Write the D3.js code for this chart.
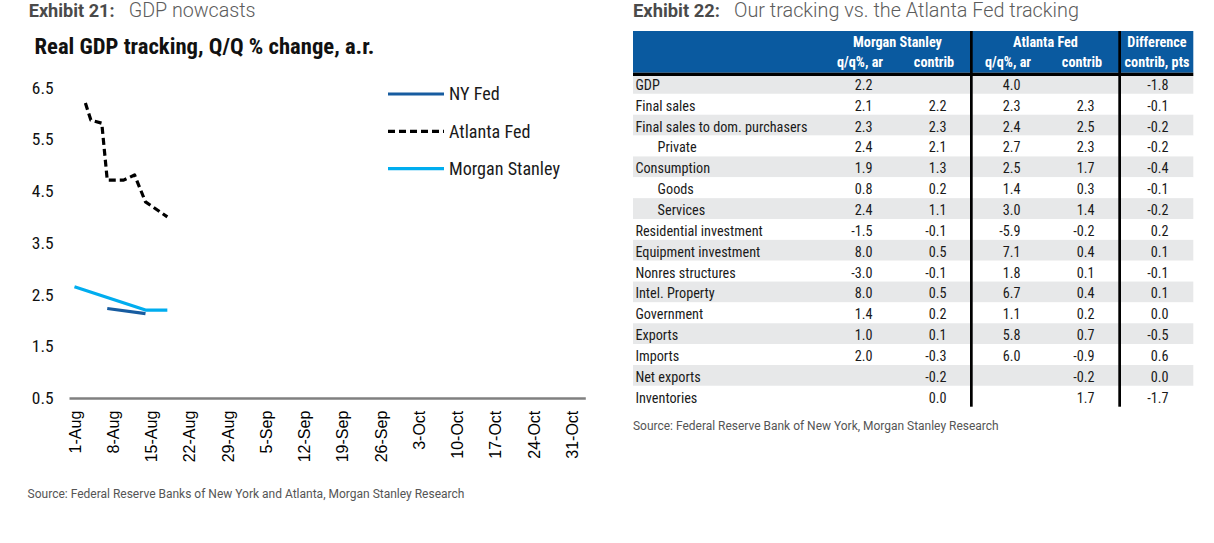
<!DOCTYPE html>
<html><head><meta charset="utf-8">
<script src="https://cdn.jsdelivr.net/npm/d3@7"></script>
<style>body{margin:0;background:#fff} svg{display:block}</style>
</head><body><svg id="c" width="1214" height="543"></svg>
<script>
// ---------------- DATA ----------------
const weekTicks = ["2025-08-01","2025-08-08","2025-08-15","2025-08-22","2025-08-29","2025-09-05","2025-09-12","2025-09-19","2025-09-26","2025-10-03","2025-10-10","2025-10-17","2025-10-24","2025-10-31"];
const yTicks = [0.5, 1.5, 2.5, 3.5, 4.5, 5.5, 6.5];

const nyFedDates = ["2025-08-07","2025-08-14"];
const nyFedValues = [2.23, 2.13];
const atlantaDates = ["2025-08-03","2025-08-04","2025-08-06","2025-08-07","2025-08-10","2025-08-12","2025-08-14","2025-08-18"];
const atlantaValues = [6.2, 5.87, 5.81, 4.71, 4.71, 4.81, 4.29, 4.0];
const msDates = ["2025-08-01","2025-08-14","2025-08-18"];
const msValues = [2.65, 2.2, 2.2];

const seriesNames = ["NY Fed", "Atlanta Fed", "Morgan Stanley"];

const rowLabels = ["GDP","Final sales","Final sales to dom. purchasers","Private","Consumption","Goods","Services","Residential investment","Equipment investment","Nonres structures","Intel. Property","Government","Exports","Imports","Net exports","Inventories"];
const rowIndent = [0,0,0,1,0,1,1,0,0,0,0,0,0,0,0,0];
const msQQ      = [2.2, 2.1, 2.3, 2.4, 1.9, 0.8, 2.4, -1.5, 8.0, -3.0, 8.0, 1.4, 1.0, 2.0, null, null];
const msContrib = [null, 2.2, 2.3, 2.1, 1.3, 0.2, 1.1, -0.1, 0.5, -0.1, 0.5, 0.2, 0.1, -0.3, -0.2, 0.0];
const atlQQ     = [4.0, 2.3, 2.4, 2.7, 2.5, 1.4, 3.0, -5.9, 7.1, 1.8, 6.7, 1.1, 5.8, 6.0, null, null];
const atlContrib= [null, 2.3, 2.5, 2.3, 1.7, 0.3, 1.4, -0.2, 0.4, 0.1, 0.4, 0.2, 0.7, -0.9, -0.2, 1.7];
const diffContrib=[-1.8, -0.1, -0.2, -0.2, -0.4, -0.1, -0.2, 0.2, 0.1, -0.1, 0.1, 0.0, -0.5, 0.6, 0.0, -1.7];
const groupHeaders = ["Morgan Stanley", "Atlanta Fed", "Difference"];
const subHeaders = ["q/q%, ar", "contrib", "q/q%, ar", "contrib", "contrib, pts"];

// ---------------- HELPERS ----------------
const NARROW = "'Roboto Condensed','Liberation Sans Narrow','Arial Narrow','DejaVu Sans Condensed',sans-serif";
const ROBOTO = "Roboto,'Noto Sans',sans-serif";
const ARIAL = "'Liberation Sans',Arial,sans-serif";
function fit(sel, w){
  const n = sel.node(); const fs = parseFloat(sel.attr("font-size"));
  const l = n.getComputedTextLength();
  if (l > 0) sel.attr("font-size", fs * w / l);
  return parseFloat(sel.attr("font-size"));
}
const parse = d3.timeParse("%Y-%m-%d");
const fmt = d3.timeFormat("%-d-%b");
const num = v => v == null ? "" : v.toFixed(1);

const svg = d3.select("#c");
svg.append("rect").attr("width",1214).attr("height",543).attr("fill","#fff");

// ---------------- EXHIBIT TITLES ----------------
function exhibit(x, label, title, wl, wt){
  const a = svg.append("text").attr("x",x).attr("y",17).attr("font-family",ROBOTO)
    .attr("font-weight",700).attr("font-size",20).attr("fill","#4a4a4a").text(label);
  fit(a, wl);
  const b = svg.append("text").attr("x",x + wl + 14).attr("y",17).attr("font-family",ROBOTO)
    .attr("font-weight",300).attr("font-size",20).attr("fill","#5c5c5c").text(title);
  fit(b, wt);
}
exhibit(28.7, "Exhibit 21:", "GDP nowcasts", 86, 127);
exhibit(633, "Exhibit 22:", "Our tracking vs. the Atlanta Fed tracking", 87, 345);

// ---------------- LINE CHART ----------------
const x = d3.scaleTime().domain([new Date(2025,6,31), new Date(2025,10,2,12)]).range([69, 585.3]);
const y = d3.scaleLinear().domain([0.5, 6.5]).range([398, 87.5]);

const ttl = svg.append("text").attr("x",34.5).attr("y",54).attr("font-family",NARROW)
  .attr("font-weight",700).attr("font-size",20).attr("fill","#111")
  .text("Real GDP tracking, Q/Q % change, a.r.");
fit(ttl, 340);

// y axis
const gy = svg.append("g").attr("transform","translate(69,0)")
  .call(d3.axisLeft(y).tickValues(yTicks).tickFormat(d => d.toFixed(1)).tickSize(0).tickPadding(15.4));
gy.select(".domain").remove();
gy.selectAll("text").attr("font-family",NARROW).attr("font-size",18).attr("fill","#111");
const ySize = fit(gy.select(".tick:last-of-type text"), 21.8);
gy.selectAll("text").attr("font-size", ySize);

// x axis
const gx = svg.append("g").attr("transform","translate(0,398)")
  .call(d3.axisBottom(x).tickValues(weekTicks.map(parse)).tickFormat(fmt).tickSize(0).tickSizeOuter(0));
gx.select(".domain").attr("stroke","#808080").attr("stroke-width",2.6);
gx.selectAll("text").attr("transform","rotate(-90)").attr("x",-12.7).attr("y",0)
  .attr("dy","0.35em").attr("text-anchor","end")
  .attr("font-family",ARIAL).attr("font-size",16).attr("fill","#000");

const line = d3.line().x(d => x(d.date)).y(d => y(d.v));
const mk = (ds, vs) => ds.map((d,i) => ({date: parse(d), v: vs[i]}));
const styles = {
  "NY Fed": {stroke:"#175ca0", dash:null},
  "Atlanta Fed": {stroke:"#000", dash:"7,4"},
  "Morgan Stanley": {stroke:"#00adef", dash:null}
};
const series = [
  {name:"NY Fed", data: mk(nyFedDates, nyFedValues)},
  {name:"Morgan Stanley", data: mk(msDates, msValues)},
  {name:"Atlanta Fed", data: mk(atlantaDates, atlantaValues)}
];
svg.append("g").selectAll("path").data(series).join("path")
  .attr("d", d => line(d.data)).attr("fill","none")
  .attr("stroke", d => styles[d.name].stroke).attr("stroke-width",3.2)
  .attr("stroke-dasharray", d => styles[d.name].dash)
  .attr("stroke-linejoin","round");

// legend
const legY = d3.scalePoint().domain(seriesNames).range([94, 168.7]);
const lg = svg.append("g").selectAll("g").data(seriesNames).join("g")
  .attr("transform", d => `translate(0,${legY(d)})`);
lg.append("line").attr("x1",388).attr("x2",444).attr("y1",0).attr("y2",0)
  .attr("stroke", d => styles[d].stroke).attr("stroke-width",3.2)
  .attr("stroke-dasharray", d => styles[d].dash);
const lt = lg.append("text").attr("x",449).attr("y",6.4).attr("font-family",NARROW)
  .attr("font-size",18).attr("fill","#1a1a1a").text(d => d);
const lSize = fit(lt.filter(d => d === "Morgan Stanley"), 111);
lt.attr("font-size", lSize);

const s1 = svg.append("text").attr("x",27.6).attr("y",498).attr("font-family",ROBOTO)
  .attr("font-size",11).attr("fill","#555")
  .text("Source: Federal Reserve Banks of New York and Atlanta, Morgan Stanley Research");
fit(s1, 437);

// ---------------- TABLE ----------------
const tL = 633, tR = 1193.3;
const rows = d3.scaleBand().domain(d3.range(rowLabels.length)).range([73, 406.7]);
const colRight = d3.scalePoint().domain(d3.range(5)).range([872.5, 1168.5]);
const cols = [msQQ, msContrib, atlQQ, atlContrib, diffContrib];

const tb = svg.append("g");
tb.selectAll("rect.band").data(rowLabels).join("rect").attr("class","band")
  .attr("x",tL).attr("width",tR - tL)
  .attr("y",(d,i) => rows(i)).attr("height",rows.bandwidth())
  .attr("fill",(d,i) => i % 2 === 0 ? "#e7e8e9" : "#fff");

tb.append("rect").attr("x",tL).attr("y",31).attr("width",tR - tL).attr("height",41.7).attr("fill","#0a5aa0");
tb.append("rect").attr("x",tL).attr("y",72.7).attr("width",tR - tL).attr("height",3.3).attr("fill","#000");

// labels
const rl = tb.selectAll("text.lab").data(rowLabels).join("text").attr("class","lab")
  .attr("x",(d,i) => 635.4 + rowIndent[i] * 22.2).attr("y",(d,i) => rows(i) + 16.8)
  .attr("font-family",NARROW).attr("font-size",14).attr("fill","#1a1a1a").text(d => d);
const rSize = fit(rl.filter((d,i) => i === 2), 172);
rl.attr("font-size", rSize);

cols.forEach((c, ci) => {
  tb.selectAll(null).data(c).join("text")
    .attr("x", colRight(ci)).attr("y",(d,i) => rows(i) + 16.8)
    .attr("text-anchor","end").attr("font-family",NARROW).attr("font-size",rSize)
    .attr("fill","#1a1a1a").text(d => num(d));
});

// headers
const groupCenters = [(colRight(0)+colRight(1))/2 - 12, (colRight(2)+colRight(3))/2 - 12, colRight(4) - 11.5];
const gh = tb.selectAll("text.gh").data(groupHeaders).join("text").attr("class","gh")
  .attr("x",(d,i) => groupCenters[i]).attr("y",46.5).attr("text-anchor","middle")
  .attr("font-family",NARROW).attr("font-weight",700).attr("font-size",14).attr("fill","#fff").text(d => d);
const hSize = fit(gh.filter((d,i) => i === 0), 89);
gh.attr("font-size", hSize);
tb.selectAll("text.sh").data(subHeaders).join("text").attr("class","sh")
  .attr("x",(d,i) => colRight(i) - (i === 4 ? 11.5 : 12.5)).attr("y",67.3).attr("text-anchor","middle")
  .attr("font-family",NARROW).attr("font-weight",700).attr("font-size",hSize).attr("fill","#fff").text(d => d);

// vertical separators
tb.selectAll("rect.vs").data([970, 1118.3]).join("rect").attr("class","vs")
  .attr("x", d => d).attr("y",31).attr("width",2.7).attr("height",406.7 - 31).attr("fill","#000");

const s2 = svg.append("text").attr("x",633).attr("y",430).attr("font-family",ROBOTO)
  .attr("font-size",11).attr("fill","#555")
  .text("Source: Federal Reserve Bank of New York, Morgan Stanley Research");
fit(s2, 366);
</script>
</body></html>
